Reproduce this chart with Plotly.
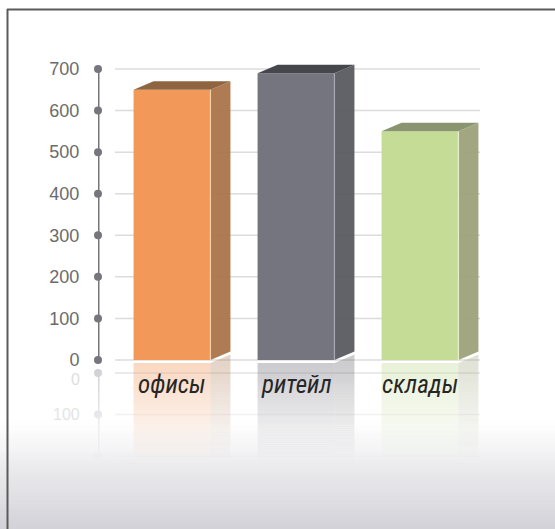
import plotly.graph_objects as go
import numpy as np

categories = ["офисы", "ритейл", "склады"]
values = [650, 690, 550]
tick_vals = [0, 100, 200, 300, 400, 500, 600, 700]
front_colors = ["#f2995a", "#74757f", "#c5dc97"]
side_rgb = [(170, 115, 72), (88, 89, 95), (156, 162, 122)]
top_colors = ["#8f6541", "#46474c", "#8a9470"]
edge_colors = ["#f8cfa6", "#a8a9b0", "#e6f0cf"]

W, H = 555, 529
PL, PR, PT, PB = 98, 520, 20, 470
X0_PX, X_SCALE = 172.0, 124.0
Y0_PX, Y_SCALE = 360.0, 291.0 / 700.0

xr = [(PL - X0_PX) / X_SCALE, (PR - X0_PX) / X_SCALE]
yr = [-(PB - Y0_PX) / Y_SCALE, (Y0_PX - PT) / Y_SCALE]

bw = 0.62
dx = 20.0 / X_SCALE
dy = 8.5 / Y_SCALE
xs = list(range(len(categories)))
gap = 13.0 / Y_SCALE

fig = go.Figure()

shapes = []
gx0 = (115 - X0_PX) / X_SCALE
gx1 = (480 - X0_PX) / X_SCALE
for t in tick_vals:
    shapes.append(dict(type="line", xref="x", yref="y", x0=gx0, x1=gx1, y0=t, y1=t,
                       line=dict(color="#dcdcdc", width=1.5), layer="below"))
for t in tick_vals[:3]:
    shapes.append(dict(type="line", xref="x", yref="y", x0=gx0, x1=gx1, y0=-t - gap, y1=-t - gap,
                       line=dict(color="#e2e2e2", width=1.5), layer="below"))

# reflected bars
for i, v in enumerate(values):
    base = -3 / Y_SCALE
    xl_ = xs[i] - bw / 2
    xr_ = xs[i] + bw / 2
    fig.add_trace(go.Scatter(x=[xl_, xr_, xr_, xl_, xl_], y=[base, base, base - v, base - v, base],
                             fill="toself", fillcolor=front_colors[i], opacity=0.36,
                             mode="lines", line=dict(width=0), hoverinfo="skip", showlegend=False))
    r, g, b = side_rgb[i]
    fig.add_trace(go.Scatter(x=[xr_, xr_ + dx, xr_ + dx, xr_, xr_],
                             y=[base, base + dy, base - v, base - v, base],
                             fill="toself", fillcolor=f"rgba({r},{g},{b},0.3)",
                             mode="lines", line=dict(width=0), hoverinfo="skip", showlegend=False))

# front faces
fig.add_trace(go.Bar(x=xs, y=values, width=bw,
                     marker=dict(color=front_colors, line=dict(width=0)),
                     hoverinfo="skip", showlegend=False))

# side and top faces
for i, v in enumerate(values):
    xr_ = xs[i] + bw / 2
    xl_ = xs[i] - bw / 2
    r, g, b = side_rgb[i]
    fig.add_trace(go.Scatter(x=[xr_, xr_ + dx, xr_ + dx, xr_, xr_],
                             y=[0, dy, v + dy, v, 0],
                             fill="toself", fillcolor=f"rgba({r},{g},{b},0.94)", mode="lines",
                             line=dict(width=0), hoverinfo="skip", showlegend=False))
    fig.add_trace(go.Scatter(x=[xl_, xl_ + dx, xr_ + dx, xr_, xl_],
                             y=[v, v + dy, v + dy, v, v],
                             fill="toself", fillcolor=top_colors[i], mode="lines",
                             line=dict(width=0), hoverinfo="skip", showlegend=False))
    fig.add_trace(go.Scatter(x=[xr_, xr_], y=[0, v], mode="lines",
                             line=dict(color=edge_colors[i], width=1.2),
                             hoverinfo="skip", showlegend=False))

# axis line with dots
ax_x = xr[0]
fig.add_trace(go.Scatter(x=[ax_x] * len(tick_vals), y=tick_vals, mode="lines+markers",
                         line=dict(color="#76767e", width=3),
                         marker=dict(color="#76767e", size=8),
                         cliponaxis=False, hoverinfo="skip", showlegend=False))
fig.add_trace(go.Scatter(x=[ax_x] * 3, y=[-gap, -100 - gap, -200 - gap], mode="lines+markers",
                         line=dict(color="#cfcfd4", width=3),
                         marker=dict(color="#cfcfd4", size=8),
                         cliponaxis=False, hoverinfo="skip", showlegend=False))


def py2paper(py):
    return (PB - py) / (PB - PT)


def px2paper(px):
    return (px - PL) / (PR - PL)


# fade / gradient overlay
n = 84
y_start, y_end = 362, H
for k in range(n):
    ya = y_start + (y_end - y_start) * k / n
    yb = y_start + (y_end - y_start) * (k + 1) / n
    ym = (ya + yb) / 2
    a = min(1.0, max(0.0, (ym - y_start) / 100.0) ** 1.2)
    if ym < 420:
        c = np.array([255.0, 255.0, 255.0])
    else:
        t = (ym - 420) / (H - 420)
        c = np.array([255.0, 255.0, 255.0]) + (np.array([210.0, 210.0, 216.0]) - 255.0) * t
    col = f"rgba({int(c[0])},{int(c[1])},{int(c[2])},{a:.3f})"
    shapes.append(dict(type="rect", xref="paper", yref="paper",
                       x0=px2paper(0), x1=px2paper(W),
                       y0=py2paper(yb + 0.6), y1=py2paper(ya),
                       fillcolor=col, line=dict(width=0), layer="above"))
shapes.append(dict(type="line", xref="paper", yref="paper",
                   x0=px2paper(7), x1=px2paper(W), y0=py2paper(9.5), y1=py2paper(9.5),
                   line=dict(color="#5a5a5a", width=2), layer="above"))
shapes.append(dict(type="line", xref="paper", yref="paper",
                   x0=px2paper(7.5), x1=px2paper(7.5), y0=py2paper(9), y1=py2paper(H),
                   line=dict(color="#5a5a5a", width=2), layer="above"))

annotations = []
lab_y = (Y0_PX - 384) / Y_SCALE
for i, c in enumerate(categories):
    annotations.append(dict(x=xs[i], y=lab_y, text=f"<i>{c}</i>", showarrow=False,
                            font=dict(family="Liberation Sans Narrow, Roboto Condensed, Liberation Sans",
                                      size=25, color="#262626"),
                            xanchor="center", yanchor="middle"))
for t, col, sh in [(0, "#dedede", -6), (100, "#e4e4e4", 0)]:
    annotations.append(dict(x=ax_x, y=-t - gap, text=str(t), showarrow=False,
                            xanchor="right", yanchor="middle", xshift=-16, yshift=sh,
                            font=dict(family="Liberation Sans, Arial", size=16, color=col)))

fig.update_layout(
    width=W, height=H,
    margin=dict(l=PL, r=W - PR, t=PT, b=H - PB, pad=0),
    paper_bgcolor="white", plot_bgcolor="rgba(0,0,0,0)",
    xaxis=dict(range=xr, showgrid=False, zeroline=False, showticklabels=False,
               showline=False, fixedrange=True),
    yaxis=dict(range=yr, showgrid=False, zeroline=False, tickvals=tick_vals,
               ticktext=[str(t) for t in tick_vals], ticks="outside", ticklen=14,
               tickcolor="rgba(0,0,0,0)", showline=False,
               tickfont=dict(family="Liberation Sans, Arial", size=18, color="#6b6b6b"),
               fixedrange=True),
    shapes=shapes,
    annotations=annotations,
    showlegend=False,
)

fig.write_html("out.html")
